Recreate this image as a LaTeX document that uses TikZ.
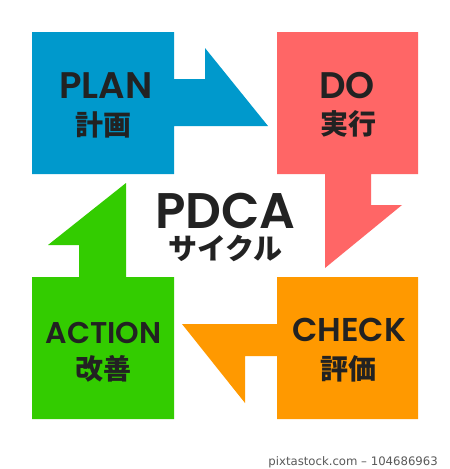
\documentclass[tikz,border=0pt]{standalone}
\usepackage{fontspec}
\setmainfont{Poppins SemiBold}
\newfontfamily\jpfont{Noto Sans CJK JP}
\newfontfamily\markfont{DejaVu Sans}

\definecolor{planBlue}{HTML}{0099CC}
\definecolor{doRed}{HTML}{FF6666}
\definecolor{checkOrange}{HTML}{FF9900}
\definecolor{actGreen}{HTML}{33CC00}
\definecolor{inkDark}{HTML}{222222}

\begin{document}
\begin{tikzpicture}[x = 1pt, y = -1pt]
	\tikzstyle{wordStyle} = [inner sep = 0pt, text = inkDark]
	\tikzstyle{kanjiStyle} = [inner sep = 0pt, text = inkDark, font = \jpfont\bfseries\fontsize{28}{28}\selectfont]
	\useasboundingbox[fill = white] (0,0) rectangle (450,469);
	% blocks with their arrows
	\fill[planBlue] (32,32) -- (174,32) -- (174,79) -- (205,79) -- (205,48) -- (268,126) -- (174,126) -- (174,174) -- (32,174) -- cycle;
	\fill[doRed] (277,32) -- (418,32) -- (418,174) -- (371,174) -- (371,205) -- (402,205) -- (325,268) -- (325,174) -- (277,174) -- cycle;
	\fill[checkOrange] (277,277) -- (418,277) -- (418,419) -- (277,419) -- (277,356) -- (245,356) -- (245,403) -- (182,324) -- (277,324) -- cycle;
	\fill[actGreen] (32,277) -- (79,277) -- (79,245) -- (48,245) -- (126,183) -- (126,277) -- (174,277) -- (174,419) -- (32,419) -- cycle;
	% labels
	\node[wordStyle, font = \fontsize{37}{37}\selectfont] (plan) at (106,85.5) {PLAN};
	\node[kanjiStyle] (keikaku) at (103,124.7) {計画};
	\node[wordStyle, font = \fontsize{37}{37}\selectfont] (do) at (347,85.5) {DO};
	\node[kanjiStyle] (jikkou) at (348,124.2) {実行};
	\node[wordStyle, font = \fontsize{33}{33}\selectfont] (check) at (349,330.3) {CHECK};
	\node[kanjiStyle] (hyouka) at (348,368.8) {評価};
	\node[wordStyle, font = \fontsize{30}{30}\selectfont] (action) at (103.5,332.5) {ACTION};
	\node[kanjiStyle] (kaizen) at (103.5,369.3) {改善};
	\node[wordStyle, font = \fontsize{50}{50}\selectfont] (pdca) at (225.5,210.5) {PDCA};
	\node[kanjiStyle, font = \jpfont\bfseries\fontsize{29}{29}\selectfont] (cycle) at (225.5,248.5) {サイクル};
	\node[anchor = base east, inner sep = 0pt, text = black!65, font = \markfont\fontsize{11.7}{11.7}\selectfont] (mark) at (438,465) {pixtastock.com – 104686963};
\end{tikzpicture}
\end{document}
